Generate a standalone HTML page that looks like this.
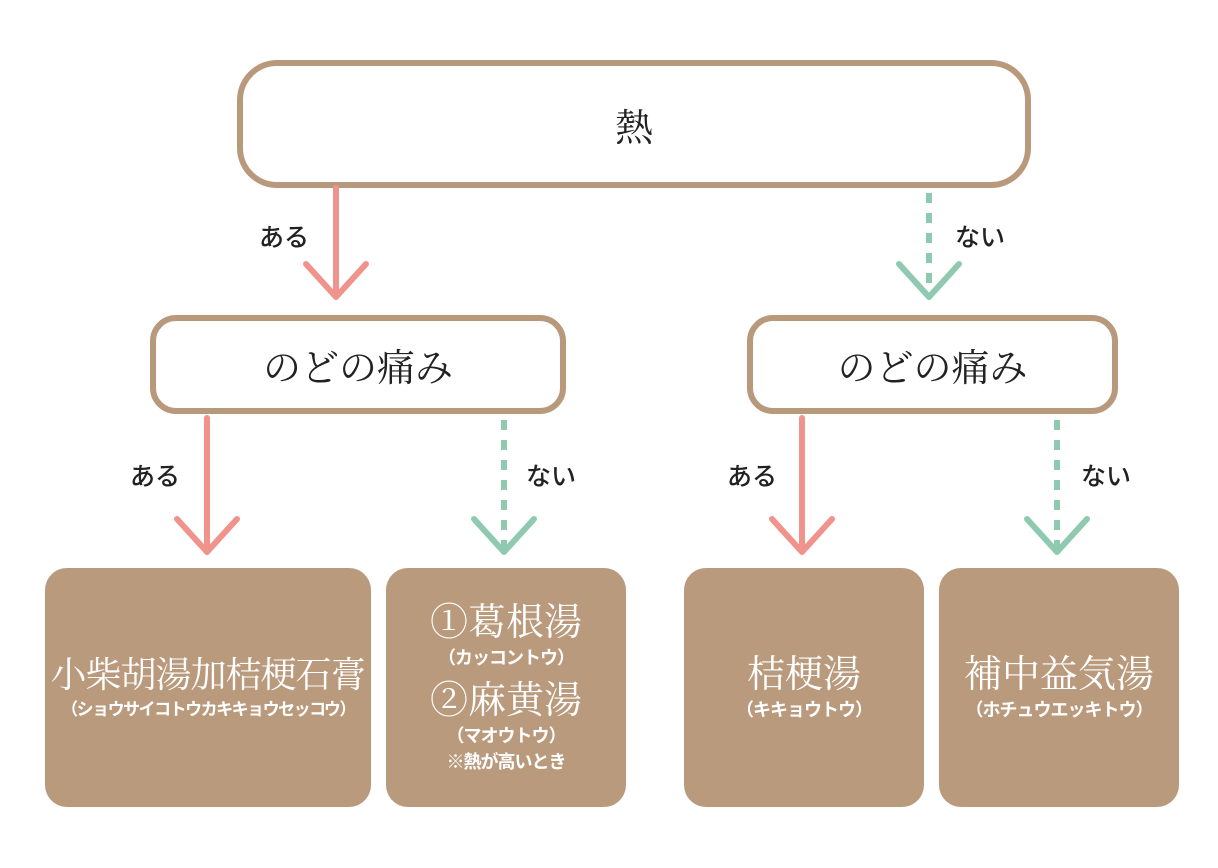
<!DOCTYPE html>
<html><head><meta charset="utf-8"><style>
body{margin:0;width:1218px;height:868px;background:#fff;position:relative;overflow:hidden;font-family:"Liberation Serif","Noto Serif CJK JP","Noto Serif CJK SC",serif}
.b{position:absolute;box-sizing:border-box;border:6px solid #b9997c;background:#fff;display:flex;align-items:center;justify-content:center;color:#222;font-size:38px}
.f{position:absolute;box-sizing:border-box;background:#b99a7d;border-radius:22px;color:#fff;display:flex;flex-direction:column;align-items:center;justify-content:center;text-align:center;white-space:nowrap}
.m{font-size:38px;line-height:44px}
.k{font-size:18px;line-height:26px;letter-spacing:-1px;font-weight:bold;font-family:"Liberation Sans","Noto Sans CJK JP",sans-serif}
.l{position:absolute;font-family:"Liberation Sans","Noto Sans CJK JP",sans-serif;font-size:25px;color:#222;font-weight:500}
svg{position:absolute;left:0;top:0}
</style></head><body>
<div class="b" style="left:237px;top:60px;width:794px;height:128px;border-radius:40px">熱</div>
<div class="b" style="left:150px;top:315px;width:416px;height:99px;border-radius:26px">のどの痛み</div>
<div class="b" style="left:747px;top:315px;width:371px;height:99px;border-radius:26px">のどの痛み</div>
<svg width="1218" height="868">
<g stroke="#f0938c" stroke-width="6" fill="none" stroke-linecap="round" stroke-linejoin="round">
<line x1="336" y1="188" x2="336" y2="296"/><polyline points="306,264 336,297 366,264"/>
<line x1="207" y1="418" x2="207" y2="551"/><polyline points="177,519 207,552 237,519"/>
<line x1="802" y1="418" x2="802" y2="551"/><polyline points="772,519 802,552 832,519"/>
</g>
<g stroke="#8fcab0" stroke-width="6" fill="none" stroke-linecap="round" stroke-linejoin="round">
<line x1="929" y1="193" x2="929" y2="296" stroke-dasharray="10 10" stroke-linecap="butt"/><polyline points="899,264 929,297 959,264"/>
<line x1="504" y1="420" x2="504" y2="551" stroke-dasharray="10 10" stroke-linecap="butt"/><polyline points="474,519 504,552 534,519"/>
<line x1="1057" y1="420" x2="1057" y2="551" stroke-dasharray="10 10" stroke-linecap="butt"/><polyline points="1027,519 1057,552 1087,519"/>
</g>
</svg>
<div class="l" style="left:259px;top:218px">ある</div>
<div class="l" style="left:955px;top:218px">ない</div>
<div class="l" style="left:130px;top:457px">ある</div>
<div class="l" style="left:526px;top:457px">ない</div>
<div class="l" style="left:727px;top:457px">ある</div>
<div class="l" style="left:1081px;top:457px">ない</div>
<div class="f" style="left:45px;top:568px;width:326px;height:239px"><div class="m" style="font-size:36px;letter-spacing:-1px">小柴胡湯加桔梗石膏</div><div class="k" style="font-size:17px;letter-spacing:-1.5px">（ショウサイコトウカキキョウセッコウ）</div></div>
<div class="f" style="left:386px;top:568px;width:240px;height:239px"><div class="m">①葛根湯</div><div class="k">（カッコントウ）</div><div class="m" style="margin-top:8px">②麻黄湯</div><div class="k">（マオウトウ）</div><div class="k">※熱が高いとき</div></div>
<div class="f" style="left:684px;top:568px;width:240px;height:239px"><div class="m">桔梗湯</div><div class="k">（キキョウトウ）</div></div>
<div class="f" style="left:939px;top:568px;width:240px;height:239px"><div class="m">補中益気湯</div><div class="k">（ホチュウエッキトウ）</div></div>
</body></html>
